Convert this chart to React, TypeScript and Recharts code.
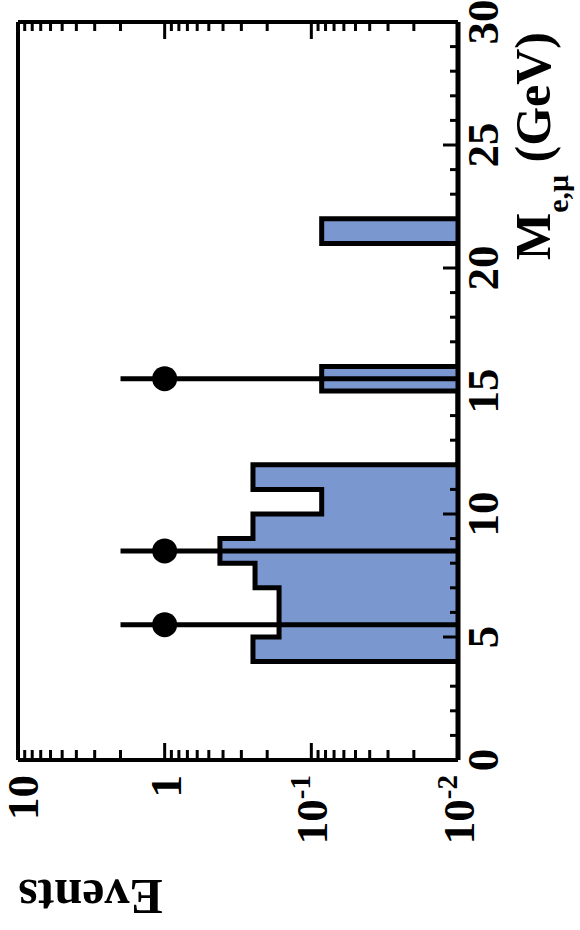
import React from 'react';
import { ComposedChart, Area, Scatter, ErrorBar, XAxis, YAxis } from 'recharts';

// ---- data ----
const BIN_LOW = [4, 5, 6, 7, 8, 9, 10, 11, 15, 21]; // GeV, bin lower edges
const BIN_WIDTH = 1;
const BIN_EVENTS = [0.25, 0.166, 0.166, 0.242, 0.42, 0.25, 0.085, 0.25, 0.085, 0.085];
const EVENTS_FLOOR = 0.01;

const DATA_MASS = [5.5, 8.5, 15.5];
const DATA_EVENTS = [1, 1, 1];
const DATA_ERR_LOW = [0.99, 0.99, 0.99];
const DATA_ERR_HIGH = [1.0, 1.0, 1.0];

const MASS_TICKS = [0, 1, 2, 3, 4, 5, 6, 7, 8, 9, 10, 11, 12, 13, 14, 15, 16, 17, 18, 19, 20, 21, 22, 23, 24, 25, 26, 27, 28, 29, 30];
const MASS_LABELS = [0, 5, 10, 15, 20, 25, 30];
const EVENT_TICKS = [
  0.01, 0.02, 0.03, 0.04, 0.05, 0.06, 0.07, 0.08, 0.09,
  0.1, 0.2, 0.3, 0.4, 0.5, 0.6, 0.7, 0.8, 0.9,
  1, 2, 3, 4, 5, 6, 7, 8, 9, 10,
];
const EVENT_DECADES = [0.01, 0.1, 1, 10];

// ---- tables built from the arrays ----
const histOutline: { m: number; ev: number }[] = [];
BIN_LOW.forEach((lo, i) => {
  const hi = lo + BIN_WIDTH;
  const prevHi = i > 0 ? BIN_LOW[i - 1] + BIN_WIDTH : null;
  const nextLo = i < BIN_LOW.length - 1 ? BIN_LOW[i + 1] : null;
  if (prevHi !== lo) histOutline.push({ m: lo, ev: EVENTS_FLOOR });
  histOutline.push({ m: lo, ev: BIN_EVENTS[i] });
  histOutline.push({ m: hi, ev: BIN_EVENTS[i] });
  if (nextLo !== hi) histOutline.push({ m: hi, ev: EVENTS_FLOOR });
});

const points = DATA_MASS.map((m, i) => ({
  m,
  ev: DATA_EVENTS[i],
  err: [DATA_ERR_LOW[i], DATA_ERR_HIGH[i]],
}));

const FONT = '"Liberation Serif", "Times New Roman", serif';
const FILL = '#7a97cf';

const isDecade = (v: number) => EVENT_DECADES.some((d) => Math.abs(d - v) < 1e-9);

const BottomTick = (props: any) => {
  const { x, y, payload } = props;
  const v = payload.value;
  const major = isDecade(v);
  const e = Math.round(Math.log10(v));
  return (
    <g>
      <line x1={x} y1={y} x2={x} y2={y - (major ? 17 : 10)} stroke="#000" strokeWidth={3} />
      {major && (
        <text
          transform={`translate(${Math.max(x, 22)},${y + 15}) rotate(-90)`}
          textAnchor="end"
          fontFamily={FONT}
          fontWeight="bold"
          fontSize={45}
          fill="#000"
        >
          <tspan dy={16}>{e === 1 ? '10' : e === 0 ? '1' : '10'}</tspan>
          {e < 0 && (
            <tspan dy={-17} fontSize={29}>{`-${-e}`}</tspan>
          )}
        </text>
      )}
    </g>
  );
};

const TopTick = (props: any) => {
  const { x, y, payload } = props;
  const major = isDecade(payload.value);
  return <line x1={x} y1={y} x2={x} y2={y + (major ? 17 : 9)} stroke="#000" strokeWidth={3} />;
};

const RightTick = (props: any) => {
  const { x, y, payload } = props;
  const v = payload.value;
  const major = MASS_LABELS.includes(v);
  return (
    <g>
      <line x1={x} y1={y} x2={x - (major ? 15 : 8)} y2={y} stroke="#000" strokeWidth={3} />
      {major && (
        <text
          transform={`translate(${x + 24},${y}) rotate(-90)`}
          textAnchor="middle"
          dy={16}
          fontFamily={FONT}
          fontWeight="bold"
          fontSize={45}
          fill="#000"
        >
          {String(v)}
        </text>
      )}
    </g>
  );
};

const LeftTick = (props: any) => {
  const { x, y, payload } = props;
  const major = MASS_LABELS.includes(payload.value);
  return <line x1={x} y1={y} x2={x + (major ? 16 : 8)} y2={y} stroke="#000" strokeWidth={3} />;
};

const MassTitle = (props: any) => {
  const vb = props && props.viewBox ? props.viewBox : { x: 458, y: 22 };
  const x = vb.x + 92;
  const y = vb.y + 238;
  return (
    <text
      transform={`translate(${x},${y}) rotate(-90)`}
      textAnchor="start"
      fontFamily={FONT}
      fontWeight="bold"
      fontSize={50}
      fill="#000"
    >
      <tspan>M</tspan>
      <tspan fontSize={30} dy={18}>e,μ</tspan>
      <tspan dy={-18}> (GeV)</tspan>
    </text>
  );
};

const EventsTitle = (props: any) => {
  const vb = props && props.viewBox ? props.viewBox : { x: 18, y: 760 };
  const x = vb.x + 72.5;
  const y = vb.y + 120;
  return (
    <text
      transform={`translate(${x},${y}) rotate(180)`}
      textAnchor="middle"
      fontFamily={FONT}
      fontWeight="bold"
      fontSize={50}
      fill="#000"
    >
      Events
    </text>
  );
};

const Dot = (props: any) => {
  const { cx, cy } = props;
  if (cx == null || cy == null) return null;
  return <circle cx={cx} cy={cy} r={12.5} fill="#000" />;
};

export default function App() {
  return (
    <div style={{ position: 'absolute', left: 0, top: 0, width: 580, height: 930, background: '#fff' }}>
      <ComposedChart
        width={580}
        height={930}
        layout="vertical"
        margin={{ top: 0, right: 0, bottom: 0, left: 0 }}
      >
        <Area
          data={histOutline}
          dataKey="ev"
          type="linear"
          baseValue={EVENTS_FLOOR}
          fill={FILL}
          fillOpacity={1}
          stroke="#000"
          strokeWidth={5}
          strokeLinejoin="miter"
          dot={false}
          activeDot={false}
          isAnimationActive={false}
        />
        <XAxis
          type="number"
          scale="log"
          domain={[EVENTS_FLOOR, 10]}
          allowDataOverflow
          reversed
          ticks={EVENT_TICKS}
          interval={0}
          orientation="bottom"
          height={170}
          tickSize={0}
          tickMargin={0}
          tickLine={false}
          axisLine={{ stroke: '#000', strokeWidth: 4 }}
          tick={(p: any) => <BottomTick {...p} />}
          label={(p: any) => <EventsTitle {...p} />}
        />
        <XAxis
          xAxisId="top"
          type="number"
          scale="log"
          domain={[EVENTS_FLOOR, 10]}
          allowDataOverflow
          reversed
          ticks={EVENT_TICKS}
          interval={0}
          orientation="top"
          height={22}
          tickSize={0}
          tickMargin={0}
          tickLine={false}
          axisLine={{ stroke: '#000', strokeWidth: 4 }}
          tick={(p: any) => <TopTick {...p} />}
        />
        <YAxis
          type="number"
          dataKey="m"
          domain={[0, 30]}
          allowDataOverflow
          reversed
          ticks={MASS_TICKS}
          interval={0}
          orientation="right"
          width={122}
          tickSize={0}
          tickMargin={0}
          tickLine={false}
          axisLine={{ stroke: '#000', strokeWidth: 5 }}
          tick={(p: any) => <RightTick {...p} />}
          label={(p: any) => <MassTitle {...p} />}
        />
        <YAxis
          yAxisId="left"
          type="number"
          domain={[0, 30]}
          allowDataOverflow
          reversed
          ticks={MASS_TICKS}
          interval={0}
          orientation="left"
          width={18}
          tickSize={0}
          tickMargin={0}
          tickLine={false}
          axisLine={{ stroke: '#000', strokeWidth: 4 }}
          tick={(p: any) => <LeftTick {...p} />}
        />
        <Scatter
          data={points}
          dataKey="ev"
          fill="#000"
          shape={(p: any) => <Dot {...p} />}
          isAnimationActive={false}
        >
          <ErrorBar dataKey="err" direction="x" width={0} stroke="#000" strokeWidth={5} />
        </Scatter>
      </ComposedChart>
    </div>
  );
}
